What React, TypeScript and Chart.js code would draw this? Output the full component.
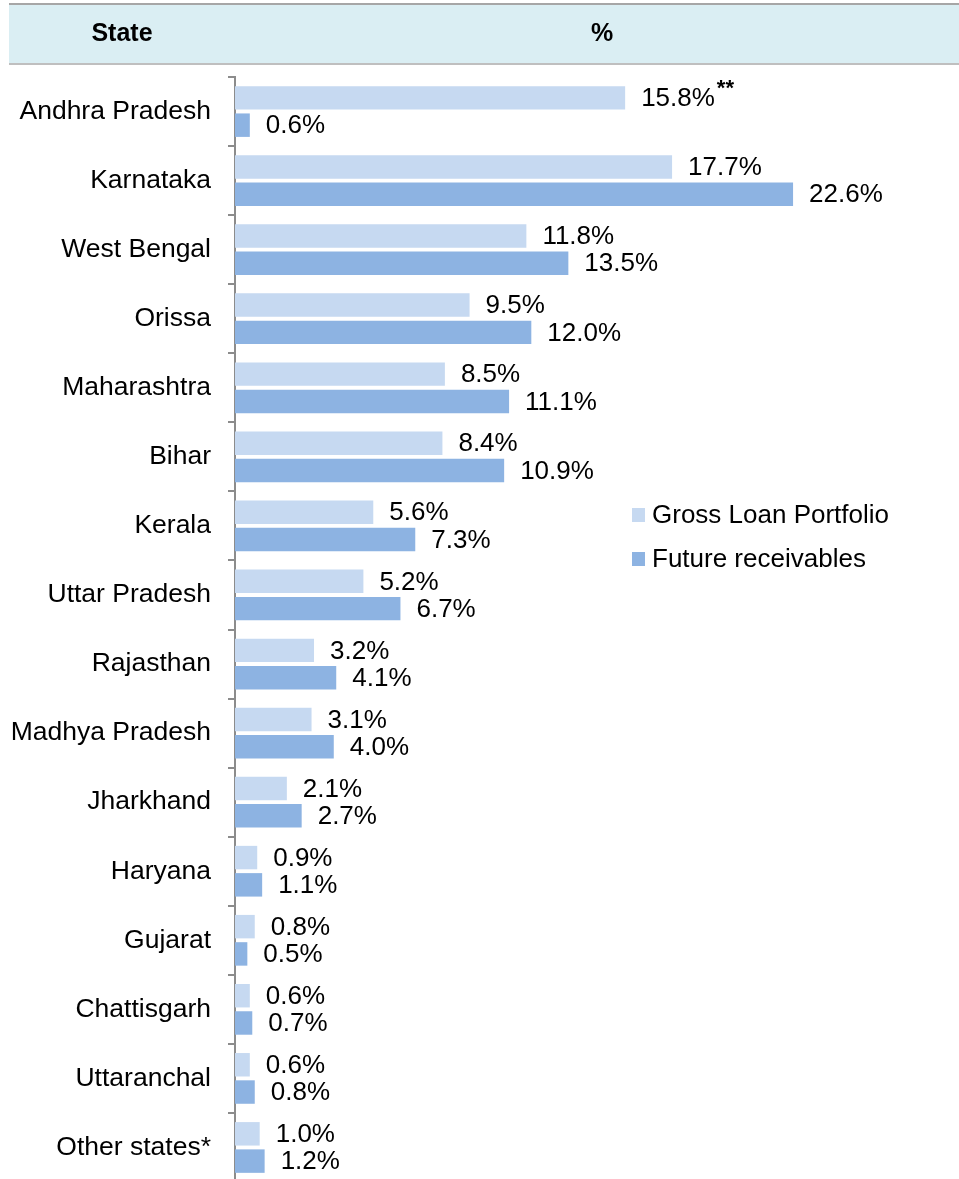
import React, { useEffect, useRef } from "react";
import { Chart, registerables } from "chart.js";

Chart.register(...registerables);

const states = [
  "Andhra Pradesh", "Karnataka", "West Bengal", "Orissa", "Maharashtra", "Bihar",
  "Kerala", "Uttar Pradesh", "Rajasthan", "Madhya Pradesh", "Jharkhand", "Haryana",
  "Gujarat", "Chattisgarh", "Uttaranchal", "Other states*",
];
const grossLoan = [15.8, 17.7, 11.8, 9.5, 8.5, 8.4, 5.6, 5.2, 3.2, 3.1, 2.1, 0.9, 0.8, 0.6, 0.6, 1.0];
const futureRec = [0.6, 22.6, 13.5, 12.0, 11.1, 10.9, 7.3, 6.7, 4.1, 4.0, 2.7, 1.1, 0.5, 0.7, 0.8, 1.2];
const grossNotes = ["**", "", "", "", "", "", "", "", "", "", "", "", "", "", "", ""];
const seriesNames = ["Gross Loan Portfolio", "Future receivables"];
const headerTexts = ["State", "%"];

const FONT = "'Liberation Sans', Arial, sans-serif";

const headerPlugin = {
  id: "header",
  beforeDraw(chart: any) {
    const ctx = chart.ctx;
    ctx.save();
    ctx.fillStyle = "#DAEEF3";
    ctx.fillRect(9, 4, 950, 61);
    ctx.fillStyle = "#A6A6A6";
    ctx.fillRect(9, 3, 950, 2);
    ctx.fillStyle = "#BFBFBF";
    ctx.fillRect(9, 63, 950, 2);
    ctx.fillStyle = "#000";
    ctx.font = `bold 25px ${FONT}`;
    ctx.textAlign = "center";
    ctx.textBaseline = "middle";
    ctx.fillText(headerTexts[0], 122, 34);
    ctx.fillText(headerTexts[1], 602, 34);
    ctx.restore();
  },
};

const labelPlugin = {
  id: "barLabels",
  afterDatasetsDraw(chart: any) {
    const ctx = chart.ctx;
    ctx.save();
    chart.data.datasets.forEach((ds: any, di: number) => {
      const meta = chart.getDatasetMeta(di);
      meta.data.forEach((bar: any, i: number) => {
        const v = ds.data[i] as number;
        const txt = v.toFixed(1) + "%";
        ctx.font = `26px ${FONT}`;
        ctx.fillStyle = "#000";
        ctx.textAlign = "left";
        ctx.textBaseline = "middle";
        const x = bar.x + 16;
        ctx.fillText(txt, x, bar.y + 1);
        if (di === 0 && grossNotes[i]) {
          const w = ctx.measureText(txt).width;
          ctx.font = `bold 22px ${FONT}`;
          ctx.textBaseline = "alphabetic";
          ctx.fillText(grossNotes[i], x + w + 2, bar.y - 3);
        }
      });
    });
    // legend
    const lx = 632;
    const ly = [515, 559];
    chart.data.datasets.forEach((ds: any, di: number) => {
      ctx.fillStyle = ds.backgroundColor;
      ctx.fillRect(lx, ly[di] - 7, 13, 14);
      ctx.fillStyle = "#000";
      ctx.font = `26px ${FONT}`;
      ctx.textAlign = "left";
      ctx.textBaseline = "middle";
      ctx.fillText(ds.label, lx + 20, ly[di] + 1);
    });
    ctx.restore();
  },
};

export default function App() {
  const ref = useRef<HTMLCanvasElement | null>(null);
  useEffect(() => {
    if (!ref.current) return;
    const chart = new Chart(ref.current, {
      type: "bar",
      data: {
        labels: states,
        datasets: [
          { label: seriesNames[0], data: grossLoan, backgroundColor: "#C6D9F1", categoryPercentage: 0.79, barPercentage: 0.86 },
          { label: seriesNames[1], data: futureRec, backgroundColor: "#8DB3E2", categoryPercentage: 0.79, barPercentage: 0.86 },
        ],
      },
      options: {
        indexAxis: "y",
        animation: false,
        responsive: true,
        maintainAspectRatio: false,
        layout: { padding: { top: 77, left: 0, right: 0, bottom: 0 } },
        plugins: { legend: { display: false }, tooltip: { enabled: false } },
        scales: {
          x: { display: false, min: 0, max: 29.32 },
          y: {
            afterFit(scale: any) {
              scale.width = 235;
              scale.paddingTop = 0;
              scale.paddingBottom = 0;
            },
            border: { display: true, color: "#8C8C8C", width: 2 },
            grid: { display: true, drawOnChartArea: false, drawTicks: true, tickLength: 7, color: "#8C8C8C", lineWidth: 2, offset: true },
            ticks: { color: "#000", font: { size: 26.5, family: FONT }, padding: 17 },
          },
        },
      },
      plugins: [headerPlugin, labelPlugin],
    });
    return () => chart.destroy();
  }, []);
  return (
    <div style={{ position: "fixed", left: 0, top: 0, width: 959, height: 1179, overflow: "hidden", background: "#fff" }}>
      <div style={{ position: "relative", width: 959, height: 1182 }}>
        <canvas ref={ref} />
      </div>
    </div>
  );
}
